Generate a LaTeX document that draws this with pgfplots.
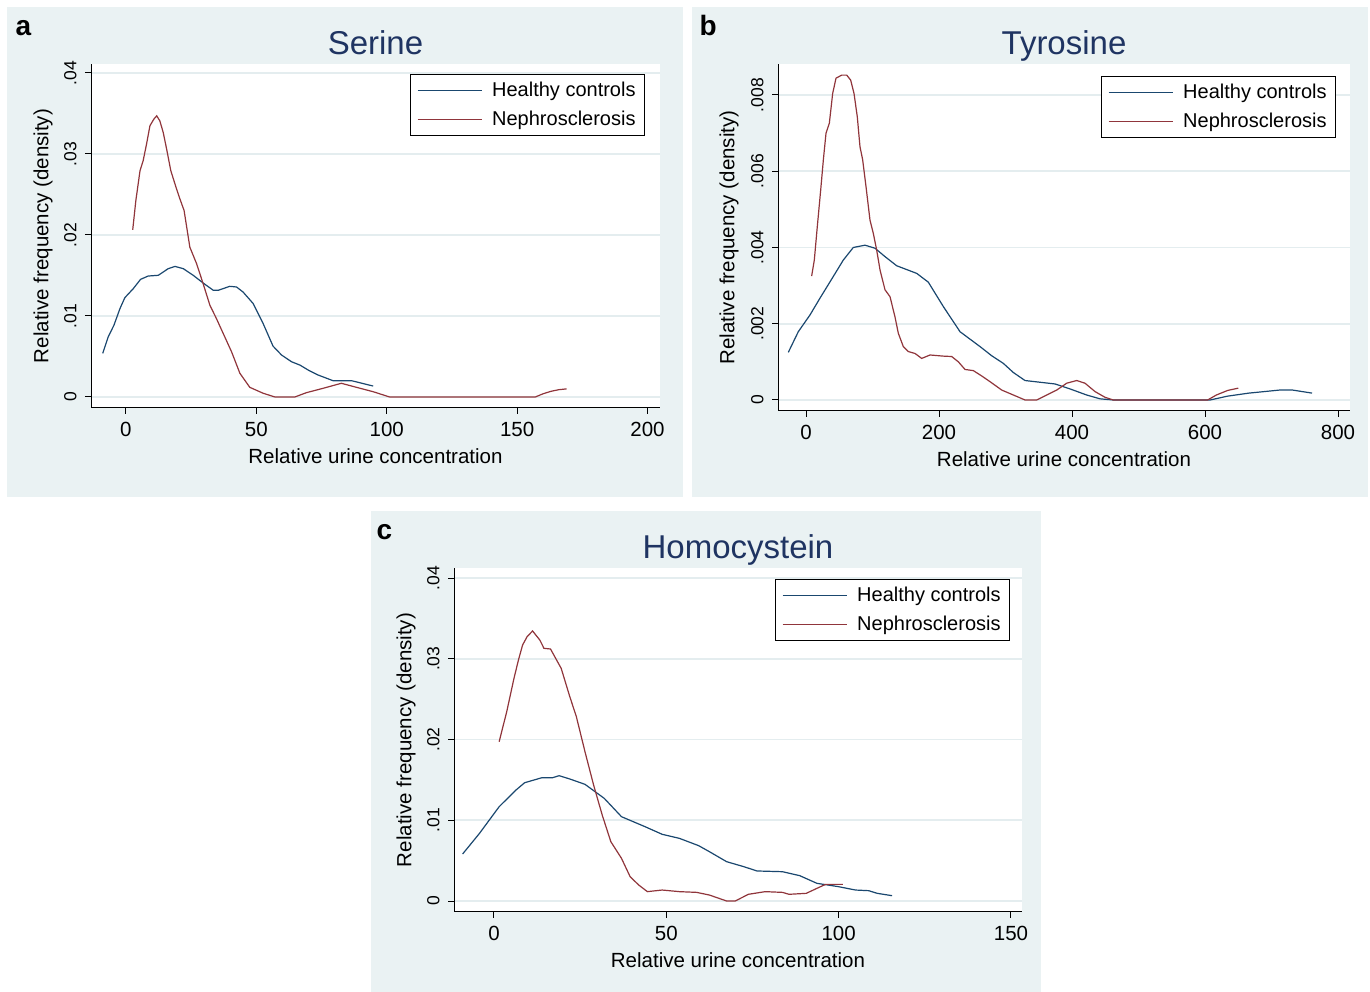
\documentclass[border=0pt]{standalone}
\usepackage{fontspec}
\setmainfont{Liberation Sans}
\usepackage{pgfplots}
\pgfplotsset{compat=1.18}

\definecolor{panelbg}{HTML}{EAF2F3}
\definecolor{gridc}{HTML}{E4EDEF}
\definecolor{hc}{HTML}{1A476F}
\definecolor{ne}{HTML}{90353B}
\definecolor{titlec}{HTML}{1F3462}

\pgfplotsset{
  statapanel/.style={
    scale only axis,
    axis x line*=bottom, axis y line*=left,
    axis line style={line width=1pt, black},
    tick align=outside, major tick length=6pt,
    tick style={line width=1pt, black},
    scaled y ticks=false, scaled x ticks=false,
    ymajorgrids, grid style={line width=1.6pt, gridc},
    axis background/.style={fill=white},
    xticklabel style={font=\fontsize{20.5}{23}\selectfont},
    xticklabel shift=5pt,
    yticklabel style={font=\fontsize{17.5}{20}\selectfont, rotate=90, anchor=south},
    yticklabel shift=5pt,
    title style={font=\fontsize{33}{37}\selectfont, text=titlec,
      at={(axis description cs:0.5,1)}, anchor=base, yshift=3pt},
    xlabel style={font=\fontsize{20.5}{23}\selectfont,
      at={(axis description cs:0.5,0)}, anchor=center, yshift=-48pt},
    ylabel style={font=\fontsize{20.5}{23}\selectfont, anchor=center},
    xlabel={Relative urine concentration},
    ylabel={Relative frequency (density)},
    legend style={draw=black, line width=0.8pt, fill=white,
      font=\fontsize{20}{23}\selectfont, anchor=north east,
      inner xsep=7pt, inner ysep=6pt, row sep=9pt, column sep=8pt,
      cells={anchor=west}},
    legend image code/.code={\draw[#1, line width=1.2pt] (0pt,0pt) -- (64pt,0pt);},
    hcline/.style={hc, line width=1.2pt},
    neline/.style={ne, line width=1.2pt},
  }
}

\begin{document}
\begin{tikzpicture}
\fill[white] (0pt,0pt) rectangle (1370pt,992pt);
\fill[panelbg] (7pt,495pt) rectangle (683pt,985pt);
\fill[panelbg] (692pt,495pt) rectangle (1368pt,985pt);
\fill[panelbg] (371pt,0pt) rectangle (1041pt,481pt);
\node[anchor=base west, font=\fontsize{28}{30}\selectfont\bfseries] at (12pt,956pt) {a};
\node[anchor=base west, font=\fontsize{28}{30}\selectfont\bfseries] at (696pt,956pt) {b};
\node[anchor=base west, font=\fontsize{28}{30}\selectfont\bfseries] at (373pt,452pt) {c};

% a: Serine
\begin{axis}[statapanel,
  at={(91pt,584pt)}, anchor=south west, width=569pt, height=344pt,
  xmin=-13.4, xmax=204.8, ymin=-0.00136, ymax=0.04111,
  xtick={0,50,100,150,200}, xticklabels={0,50,100,150,200},
  ytick={0,0.01,0.02,0.03,0.04}, yticklabels={0,.01,.02,.03,.04},
  ylabel style={at={(axis description cs:-0.0844,0.5)}},
  title={Serine},
  legend style={at={(0.9736,0.971)}},
]
\addplot[hcline] coordinates {
(-8.9,0.00538)(-6.8,0.00742)(-4.6,0.00886)(-2.3,0.01091)(-0.4,0.01227)
(2.8,0.01337)(5.6,0.01452)(8.5,0.01493)(12.4,0.01502)(16.2,0.01584)
(18.8,0.01612)(22.0,0.01584)(25.8,0.01502)(29.6,0.01407)(33.5,0.01317)
(35.4,0.01317)(39.8,0.01366)(42.4,0.01358)(44.9,0.01296)(48.8,0.01153)
(52.6,0.00907)(56.4,0.00628)(59.7,0.00517)(63.5,0.00435)(66.7,0.00394)
(69.9,0.00332)(73.7,0.00271)(79.4,0.00201)(86.5,0.00201)(94.8,0.00135)};
\addplot[neline] coordinates {
(2.6,0.02064)(3.8,0.02425)(5.4,0.02794)(6.6,0.02917)(7.9,0.03122)
(9.2,0.03348)(10.7,0.0343)(11.8,0.03471)(13.0,0.03409)(14.3,0.03265)
(15.6,0.03061)(17.2,0.02794)(19.2,0.02589)(20.7,0.02445)(22.3,0.02302)
(24.5,0.0185)(27.1,0.01645)(29.6,0.01399)(32.2,0.01132)(34.7,0.00968)
(37.3,0.00784)(40.5,0.00558)(43.7,0.00292)(47.5,0.00119)(52.6,0.00046)
(57.1,0.0)(64.8,0.0)(69.2,0.00053)(75.6,0.00107)(82.6,0.00169)
(88.4,0.00119)(94.8,0.00065)(101.1,0.0)(157,0.0)(160,0.0004)
(163,0.0007)(166,0.0009)(169,0.001)};
\legend{Healthy controls, Nephrosclerosis}
\end{axis}

% b: Tyrosine
\begin{axis}[statapanel,
  at={(778pt,581pt)}, anchor=south west, width=572pt, height=347pt,
  xmin=-42.1, xmax=818, ymin=-0.000289, ymax=0.008813,
  xtick={0,200,400,600,800}, xticklabels={0,200,400,600,800},
  ytick={0,0.002,0.004,0.006,0.008}, yticklabels={0,.002,.004,.006,.008},
  ylabel style={at={(axis description cs:-0.0857,0.5)}},
  title={Tyrosine},
  legend style={at={(0.9755,0.9654)}},
]
\addplot[hcline] coordinates {
(-26.6,0.00125)(-11.6,0.00179)(6,0.00223)(21,0.00267)(38.6,0.00317)
(56.1,0.00367)(71.1,0.0040)(88.7,0.00406)(103.8,0.00398)(118.8,0.00376)
(136.4,0.00352)(166.5,0.00332)(183.9,0.00309)(206.5,0.00245)(231.6,0.00179)
(261.7,0.0014)(279.2,0.00116)(296.7,0.00096)(311.8,0.00072)(329.3,0.00051)
(374.4,0.00042)(397,0.00029)(422,0.00013)(442,0.00003)(462,0)
(607.8,0)(633.8,0.0001)(666,0.00018)(712,0.00026)(731.6,0.00026)(760.9,0.00018)};
\addplot[neline] coordinates {
(8.5,0.00325)(12.5,0.00367)(17,0.00455)(22.1,0.00551)(26.1,0.0063)
(30.1,0.007)(35.1,0.00726)(40.1,0.00804)(45.1,0.00844)(53.6,0.00852)
(61.2,0.00852)(67.2,0.00839)(72.2,0.00804)(77.1,0.00743)(81.2,0.00664)
(85.2,0.0063)(90.2,0.0056)(96.2,0.00472)(101.2,0.00437)(106.3,0.00393)
(111.3,0.00341)(118.8,0.00289)(126.3,0.00271)(133.8,0.00218)(138.8,0.00175)
(146.3,0.0014)(153.8,0.00127)(163.9,0.00122)(174,0.00109)(186.5,0.00118)
(206.5,0.00115)(219.1,0.00114)(229.1,0.001)(239.1,0.0008)(251.6,0.00077)
(264.2,0.00063)(276.7,0.00048)(294.3,0.00026)(311.8,0.00013)(329.3,0)
(346.9,0)(361.9,0.00013)(377,0.00026)(392,0.00044)(407,0.00051)
(419.5,0.00044)(434.6,0.00022)(449.6,0.00007)(462,0)(604,0)
(617,0.00013)(634,0.00025)(650,0.00031)};
\legend{Healthy controls, Nephrosclerosis}
\end{axis}

% c: Homocystein
\begin{axis}[statapanel,
  at={(454pt,80pt)}, anchor=south west, width=568pt, height=344pt,
  xmin=-11.6, xmax=153.2, ymin=-0.00136, ymax=0.04124,
  xtick={0,50,100,150}, xticklabels={0,50,100,150},
  ytick={0,0.01,0.02,0.03,0.04}, yticklabels={0,.01,.02,.03,.04},
  ylabel style={at={(axis description cs:-0.0845,0.5)}},
  title={Homocystein},
  legend style={at={(0.9789,0.968)}},
]
\addplot[hcline] coordinates {
(-9.1,0.00582)(-4.2,0.00838)(1.5,0.01168)(6.4,0.01375)(8.9,0.01465)
(13.9,0.01527)(17.0,0.01527)(18.9,0.01552)(22.0,0.01511)(26.4,0.01445)
(32.0,0.01271)(37.0,0.01044)(43.8,0.00921)(48.8,0.00826)(53.8,0.00776)
(59.4,0.00685)(62.5,0.00611)(67.5,0.00487)(72.5,0.00425)(76.3,0.00372)
(83.7,0.00363)(88.7,0.00314)(93.7,0.00219)(99.9,0.00178)(104.9,0.00136)
(108.7,0.00128)(111.2,0.00095)(115.5,0.00066)};
\addplot[neline] coordinates {
(1.5,0.01973)(3.7,0.02345)(5.8,0.02757)(7.1,0.02985)(8.3,0.0317)
(9.6,0.03273)(11.2,0.03344)(13.3,0.03232)(14.5,0.03129)(16.4,0.03121)
(19.5,0.02881)(22.0,0.0253)(23.9,0.02283)(26.4,0.01849)(28.9,0.01437)
(31.4,0.01065)(33.9,0.00735)(37.0,0.00528)(39.5,0.00301)(42.0,0.00198)
(44.5,0.00116)(48.8,0.00136)(53.8,0.00116)(58.8,0.00107)(62.5,0.00074)
(67.5,0.0)(70.0,0.0)(73.8,0.00083)(78.7,0.00116)(83.7,0.00107)
(85.6,0.00083)(90.6,0.00095)(93.7,0.00157)(96.2,0.00206)(101.2,0.00206)};
\legend{Healthy controls, Nephrosclerosis}
\end{axis}
\end{tikzpicture}
\end{document}
